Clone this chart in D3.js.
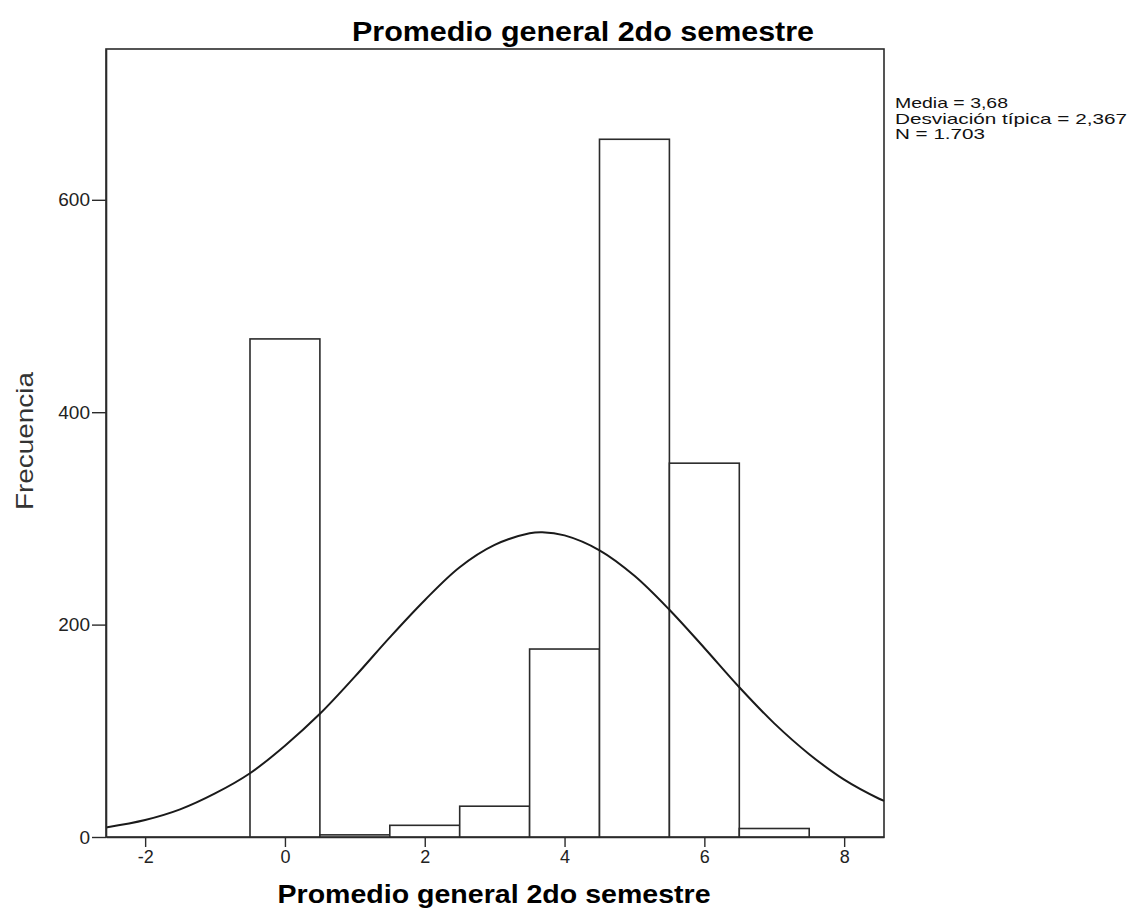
<!DOCTYPE html>
<html><head><meta charset="utf-8">
<script src="https://cdn.jsdelivr.net/npm/d3@7"></script>
<style>body{margin:0;background:#fff}svg{display:block;font-family:"Liberation Sans",Arial,sans-serif}</style>
</head><body>
<svg id="chart" width="1133" height="921"></svg>
<script>
// Histogram bins (centres) and frequencies
const binCenters = [0, 1, 2, 3, 4, 5, 6, 7];
const binCounts  = [469, 2, 11, 29, 177, 657, 352, 8];
const binWidth = 1;
// Normal curve
const curveX = [-2.56,-2,-1.5,-1,-0.5,0,0.5,1,1.5,2,2.5,3,3.5,3.68,4,4.5,5,5.5,6,6.5,7,7.5,8,8.5,8.57];
const curveY = [9,16,26,41,60,86,116,151,188,223,254,275,286,287,284,270,246,214,178,141,107,78,54,36,34];
const xTicks = [-2, 0, 2, 4, 6, 8];
const yTicks = [0, 200, 400, 600];
const statsLines = ["Media = 3,68", "Desviación típica = 2,367", "N = 1.703"];
const chartTitle = "Promedio general 2do semestre";
const xTitle = "Promedio general 2do semestre";
const yTitle = "Frecuencia";

const svg = d3.select("#chart");
const L = 106, R = 884, T = 49, B = 837;
const x = d3.scaleLinear().domain([-2.56, 8.57]).range([L, R]);
const y = d3.scaleLinear().domain([0, 742]).range([B, T]);
const ink = "#2b2b2b";
const fmt = d => String(d);

// frame
svg.append("rect").attr("x", L).attr("y", T).attr("width", R - L).attr("height", B - T)
  .attr("fill", "none").attr("stroke", ink).attr("stroke-width", 1.6);

// bars
svg.append("g").selectAll("rect").data(binCenters).join("rect")
  .attr("x", d => x(d - binWidth / 2))
  .attr("width", d => x(d + binWidth / 2) - x(d - binWidth / 2))
  .attr("y", (d, i) => y(binCounts[i]))
  .attr("height", (d, i) => y(0) - y(binCounts[i]))
  .attr("fill", "#fff").attr("stroke", ink).attr("stroke-width", 1.6);

// normal curve
const line = d3.line().x(d => x(d[0])).y(d => y(d[1])).curve(d3.curveCatmullRom);
svg.append("path").datum(curveX.map((v, i) => [v, curveY[i]]))
  .attr("d", line).attr("fill", "none").attr("stroke", "#1a1a1a").attr("stroke-width", 2);

// axes
const xAxis = svg.append("g").attr("transform", `translate(0,${B})`)
  .call(d3.axisBottom(x).tickValues(xTicks).tickSize(10).tickSizeOuter(0).tickPadding(3).tickFormat(fmt));
const yAxis = svg.append("g").attr("transform", `translate(${L},0)`)
  .call(d3.axisLeft(y).tickValues(yTicks).tickSize(14).tickSizeOuter(0).tickPadding(2).tickFormat(fmt));
[xAxis, yAxis].forEach(g => {
  g.attr("font-size", null).attr("font-family", null);
  g.select(".domain").attr("stroke", ink).attr("stroke-width", 1.6);
  g.selectAll(".tick line").attr("stroke", ink).attr("stroke-width", 1.4);
  g.selectAll(".tick text").attr("fill", "#222").attr("font-size", 19)
    .attr("font-family", '"Liberation Sans", Arial, sans-serif');
});
xAxis.selectAll(".tick text").attr("font-size", 18);

// titles
svg.append("text").attr("x", 583).attr("y", 41).attr("text-anchor", "middle")
  .attr("font-size", 27).attr("font-weight", "bold").attr("fill", "#000")
  .attr("textLength", 462).attr("lengthAdjust", "spacingAndGlyphs").text(chartTitle);
svg.append("text").attr("x", 494).attr("y", 903).attr("text-anchor", "middle")
  .attr("font-size", 26).attr("font-weight", "bold").attr("fill", "#000")
  .attr("textLength", 433).attr("lengthAdjust", "spacingAndGlyphs").text(xTitle);
svg.append("text").attr("transform", "translate(33,441) rotate(-90)").attr("text-anchor", "middle")
  .attr("font-size", 24).attr("fill", "#333")
  .attr("textLength", 138).attr("lengthAdjust", "spacingAndGlyphs").text(yTitle);

// stats box text
const statWidths = [113, 232, 90];
svg.append("g").selectAll("text").data(statsLines).join("text")
  .attr("x", 895).attr("y", (d, i) => 108 + i * 15.5)
  .attr("font-size", 14.5).attr("fill", "#111")
  .attr("textLength", (d, i) => statWidths[i]).attr("lengthAdjust", "spacingAndGlyphs")
  .text(d => d);
</script>
</body></html>
